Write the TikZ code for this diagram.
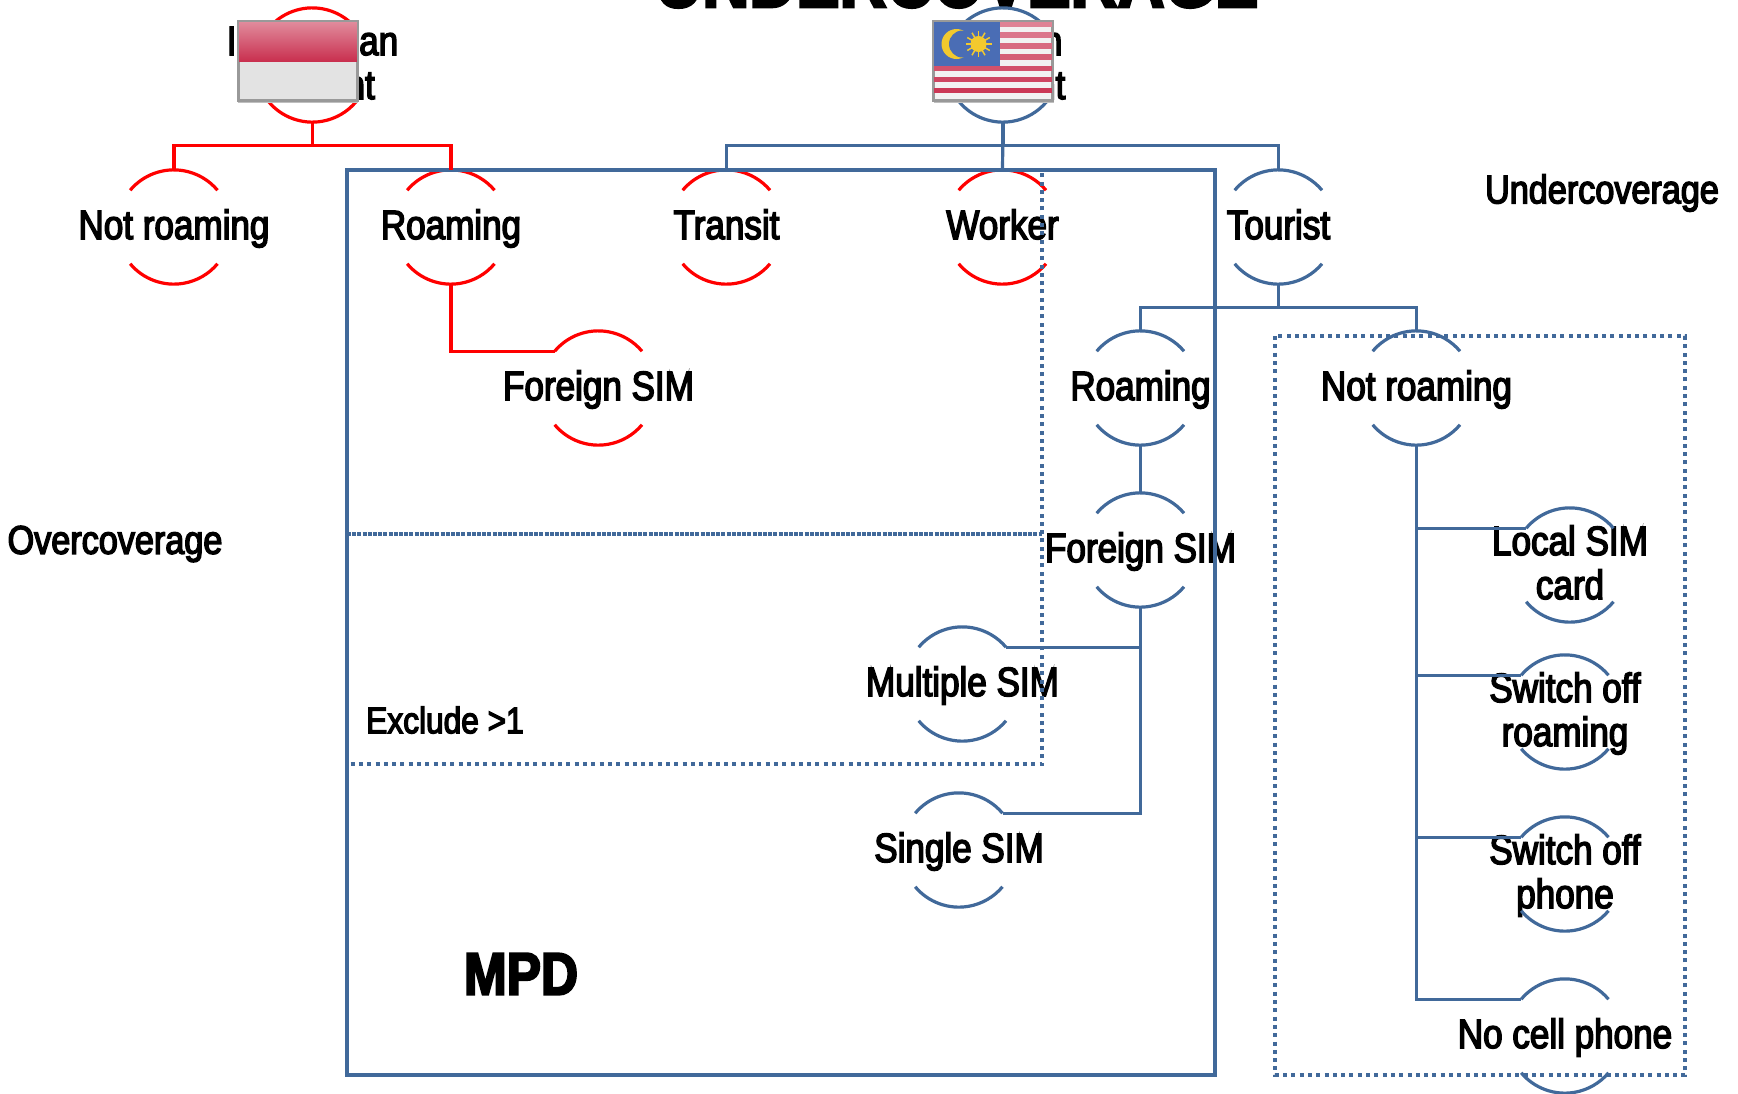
\documentclass[tikz,border=0pt]{standalone}
\usepackage{fontspec}
\setmainfont[FakeStretch=0.855,FakeBold=3.5]{Liberation Sans}
\usetikzlibrary{calc}
\definecolor{mpdblue}{HTML}{41699A}
\definecolor{flagred}{HTML}{C9304F}
\definecolor{flagblue}{HTML}{4A6DB5}
\definecolor{flagsun}{HTML}{F2C92E}
\newcommand{\lbl}[1]{\makebox[0pt]{\raisebox{-9.5pt}[0pt][0pt]{\begin{tabular}{@{}c@{}}#1\end{tabular}}}}
\tikzset{
    bubble/.style={circle, minimum size=114pt, inner sep=0pt, font=\fontsize{41}{44}\selectfont},
    redline/.style={draw=red, line width=3.2pt},
    blueline/.style={draw=mpdblue, line width=3.2pt},
    dotbox/.style={draw=mpdblue, line width=4pt, dash pattern=on 4pt off 4.3pt},
    freetext/.style={font=\fontsize{40}{44}\selectfont},
    flagbox/.style={draw=gray!80, line width=2pt, minimum width=118pt, minimum height=78pt, inner sep=0pt}
}
\begin{document}
\begin{tikzpicture}[x=1pt, y=-1pt]
    \clip (0,0) rectangle (1738,1093);
    \renewcommand{\arraystretch}{1}

    % Title, cut by the page
    \node[font=\fontsize{76}{80}\selectfont\bfseries, anchor=base] (title) at (957,7) {UNDERCOVERAGE};

    % Red tree
    \node[bubble] (idn) at (312.5,65) {\lbl{Indonesian\\resident}};
    \node[bubble] (notroamA) at (174,227) {\lbl{Not roaming}};
    \node[bubble] (roamA) at (451,227) {\lbl{Roaming}};
    \node[bubble] (transit) at (726.5,227) {\lbl{Transit}};
    \node[bubble] (worker) at (1002.5,227) {\lbl{Worker}};
    \node[bubble] (simA) at (598.5,388) {\lbl{Foreign SIM}};

    % Blue tree
    \node[bubble] (mys) at (1003,65) {\lbl{Foreign\\resident}};
    \node[bubble] (tourist) at (1278.5,227) {\lbl{Tourist}};
    \node[bubble] (roamB) at (1140.5,388) {\lbl{Roaming}};
    \node[bubble] (notroamB) at (1416.5,388) {\lbl{Not roaming}};
    \node[bubble] (simB) at (1140.5,550) {\lbl{Foreign SIM}};
    \node[bubble] (multi) at (962.5,684) {\lbl{Multiple SIM}};
    \node[bubble] (single) at (959,850) {\lbl{Single SIM}};
    \node[bubble] (local) at (1570,565) {\lbl{Local SIM\\card}};
    \node[bubble] (swroam) at (1565,712) {\lbl{Switch off\\roaming}};
    \node[bubble] (swphone) at (1565,874) {\lbl{Switch off\\phone}};
    \node[bubble] (nocell) at (1565,1036) {\lbl{No cell phone}};

    % Arcs of the bubbles
    \foreach \n in {idn,notroamA,roamA,transit,worker,simA} {
        \draw[redline] (\n.140) arc[start angle=140, end angle=40, radius=57pt];
        \draw[redline] (\n.-140) arc[start angle=-140, end angle=-40, radius=57pt];
    }
    \foreach \n in {mys,tourist,roamB,notroamB,simB,multi,single,local,swroam,swphone,nocell} {
        \draw[blueline] (\n.140) arc[start angle=140, end angle=40, radius=57pt];
        \draw[blueline] (\n.-140) arc[start angle=-140, end angle=-40, radius=57pt];
    }

    % Boxes
    \draw[draw=mpdblue, line width=4.5pt] (347,170) rectangle (1215,1075);
    \draw[dotbox] (347,170) rectangle (1042,764);
    \draw[dotbox] (1275,336) rectangle (1685,1075);
    \draw[draw=mpdblue, line width=4pt, dash pattern=on 4pt off 1.2pt] (347,534) -- (1042,534);

    % Connectors
    \draw[redline] (idn.south) -- ++(0,23) -| (notroamA.north);
    \draw[redline] (idn.south) -- ++(0,23) -| (roamA.north);
    \draw[redline] (roamA.south) |- (simA.140);
    \draw[blueline] (mys.south) -- ++(0,23) -| (transit.north);
    \draw[blueline] (mys.south) -- (worker.north);
    \draw[blueline] (mys.south) -- ++(0,23) -| (tourist.north);
    \draw[blueline] (tourist.south) -- ++(0,23) -| (roamB.north);
    \draw[blueline] (tourist.south) -- ++(0,23) -| (notroamB.north);
    \draw[blueline] (roamB.south) -- (simB.north);
    \draw[blueline] (simB.south) |- (multi.40);
    \draw[blueline] (simB.south) |- (single.40);
    \draw[blueline] (notroamB.south) |- (local.140);
    \draw[blueline] (notroamB.south) |- (swroam.140);
    \draw[blueline] (notroamB.south) |- (swphone.140);
    \draw[blueline] (notroamB.south) |- (nocell.140);

    % Free labels
    \node[freetext] (under) at (1602,193) {Undercoverage};
    \node[freetext] (over) at (115,544) {Overcoverage};
    \node[font=\fontsize{37}{40}\selectfont] (excl) at (445,720) {Exclude >1};
    \node[font=\fontsize{60}{66}\selectfont\bfseries] (mpd) at (521,974) {MPD};

    % Flags
    \fill[black!25] (238,24) rectangle (358,103);
    \node[flagbox, fill=black!11] (flagid) at (297.5,61) {};
    \fill[top color=flagred!55!white, bottom color=flagred] (flagid.north west) rectangle (flagid.east);
    \draw[gray!80, line width=2pt] (flagid.north west) rectangle (flagid.south east);

    \fill[black!25] (934,24) rectangle (1054,103);
    \node[flagbox, fill=black!5] (flagmy) at (992.5,61) {};
    \foreach \i in {0,2,...,12} {
        \pgfmathtruncatemacro{\p}{60+3*\i}
        \fill[flagred!\p!white] ($(flagmy.north west)+(0,\i*5.57)$) rectangle ($(flagmy.north east)+(0,\i*5.57+5.57)$);
    }
    \fill[flagblue] (flagmy.north west) rectangle ($(flagmy.north west)+(67,45)$);
    \fill[flagsun] ($(flagmy.north west)+(24,23)$) circle[radius=15pt];
    \fill[flagblue] ($(flagmy.north west)+(30,23)$) circle[radius=13.5pt];
    \fill[flagsun] ($(flagmy.north west)+(46,23)$) circle[radius=8pt];
    \foreach \a in {0,30,...,330} {
        \draw[flagsun, line width=1.5pt] ($(flagmy.north west)+(46,23)$) -- ++(\a:13pt);
    }
    \draw[gray!80, line width=2pt] (flagmy.north west) rectangle (flagmy.south east);
\end{tikzpicture}
\end{document}
